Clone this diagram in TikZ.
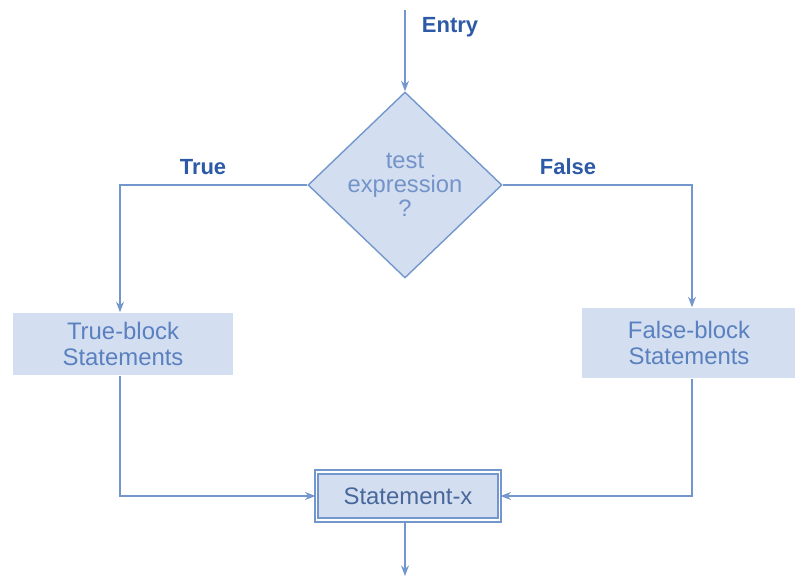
\documentclass[tikz,border=0pt]{standalone}
\usepackage{fontspec}
\setmainfont{Liberation Sans}
\usetikzlibrary{shapes.geometric,arrows.meta}
\definecolor{flowline}{HTML}{7397CC}
\definecolor{boxfill}{HTML}{D3DFF0}
\definecolor{labeltext}{HTML}{2C5AA6}
\definecolor{boxtext}{HTML}{5A80C0}
\tikzset{
    label/.style={text=labeltext, font=\fontsize{12.5}{15}\selectfont\bfseries},
    block/.style={fill=boxfill, text=boxtext, align=center, inner sep=0pt,
        font=\fontsize{13.6}{14.6}\selectfont},
    decision/.style={diamond, aspect=1, fill=boxfill, draw=flowline, line width=.8pt,
        text=boxtext!85!white, align=center, inner sep=0pt,
        minimum width=3.88cm, minimum height=3.72cm, font=\fontsize{13.5}{13.8}\selectfont},
}
\begin{document}
\begin{tikzpicture}[>={Stealth[length=6pt,width=4.5pt]}, x=0.02cm, y=-0.02cm, line width=.8pt]
    \useasboundingbox (0,0) rectangle (795,579);

    % decision and blocks
    \node[decision] (test) at (405,185) {test\\expression\\?};
    \node[block, minimum width=4.4cm, minimum height=1.24cm] (trueblk) at (123,344) {True-block\\Statements};
    \node[block, minimum width=4.28cm, minimum height=1.4cm] (falseblk) at (689,343) {False-block\\Statements};
    \node[block, text=boxtext!80!black, draw=flowline, line width=1.1pt, double=white, double distance=0.9pt,
        minimum width=3.66cm, minimum height=0.96cm] (stx) at (408,496) {Statement-x};

    % labels
    \node[label] (entrylbl) at (450,27) {Entry};
    \node[label] (truelbl) at (203,167) {True};
    \node[label] (falselbl) at (568,167) {False};

    \coordinate (entry) at (405,10);
    \coordinate (exit) at (405,576);

    % connectors
    \draw[->, flowline] (entry) -- (test.north);
    \draw[->, flowline] (test.west) -| (trueblk.north -| 120,0);
    \draw[->, flowline] (test.east) -| (falseblk.north -| 692,0);
    \draw[->, flowline] (trueblk.south -| 120,0) |- (stx.west);
    \draw[->, flowline] (falseblk.south -| 692,0) |- (stx.east);
    \draw[->, flowline] (stx.south -| exit) -- (exit);

\end{tikzpicture}
\end{document}
